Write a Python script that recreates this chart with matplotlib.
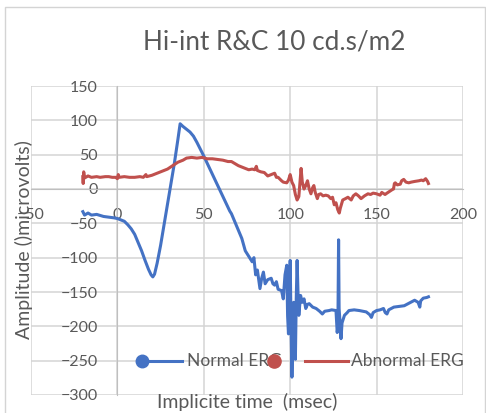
import matplotlib.pyplot as plt
from matplotlib.patches import Rectangle

# --- data ---
normal_x = [-20, -19, -17, -15, -12, -8, -5, -2, 0, 2, 4, 6, 8, 10, 12, 14, 16, 18,
            19.5, 20.5, 21.5, 23, 25, 27, 29, 31, 33, 35, 36.3, 38, 40, 42, 44, 46,
            48, 50, 53, 56, 59, 62, 65, 66, 68, 70, 72, 74, 76, 78, 79, 80, 81, 82.5,
            83.5, 84.5, 85.5, 87, 89, 90, 91, 92, 93, 95, 96, 97, 98, 98.5, 99, 99.5,
            100, 100.5, 101, 101.5, 102, 103, 103.5, 104, 104.5, 105, 106, 107, 108,
            109, 110, 111, 113, 115, 117, 118.6, 120, 122.5, 124, 126.5, 127.2, 127.6,
            128, 128.3, 129, 129.4, 130, 131.4, 133, 134, 137, 140, 142, 144, 146,
            147, 148, 150, 152, 154, 155, 156, 157, 160, 163, 166, 169, 172, 174,
            175, 175.5, 177, 179, 180]
normal_y = [-33, -38, -35, -38, -37, -40, -41, -42, -43, -45, -47, -52, -58, -66, -78,
            -90, -104, -117, -125, -128, -124, -108, -82, -52, -22, 8, 38, 72, 95, 91,
            87, 83, 77, 68, 58, 48, 32, 16, 0, -16, -32, -36, -48, -60, -72, -90, -98,
            -106, -100, -125, -118, -145, -130, -121, -138, -132, -130, -138, -140,
            -135, -146, -148, -160, -125, -111, -185, -211, -150, -104, -200, -274,
            -220, -165, -248, -160, -104, -150, -184, -155, -165, -160, -174, -168,
            -167, -172, -174, -178, -182, -178, -177, -176, -177, -209, -200, -74,
            -174, -200, -218, -195, -184, -180, -177, -176, -177, -178, -179, -183,
            -187, -180, -177, -176, -174, -180, -182, -176, -172, -171, -170, -166,
            -162, -165, -172, -163, -159, -158, -157]

abnormal_x = [-20, -19.8, -19.5, -19, -17, -15, -12, -10, -7, -5, -3, -1, 0, 0.5, 1, 4,
              7, 10, 13, 15, 16.5, 17, 20, 23, 26, 29, 32, 35, 38, 40, 43, 46, 49, 52,
              55, 58, 61, 64, 66, 68, 70, 72, 74, 76, 78, 79.5, 80.4, 81, 83, 85, 87,
              89, 91, 92, 93, 95, 96, 98, 99, 100, 101, 102, 103, 104, 105, 106.3, 107,
              108, 109, 110, 111, 112, 113, 113.7, 114.5, 115.7, 116.5, 117.6, 119,
              120.6, 122, 123.5, 124.5, 125.5, 126.5, 127.5, 128.4, 129, 130.4, 132,
              133.4, 135.3, 136.5, 138, 139.5, 141, 143, 145, 146.5, 148, 150, 152,
              153, 154.9, 156, 157.8, 159, 159.8, 160.3, 160.8, 162, 163.7, 164.5,
              165.7, 167, 168.6, 170, 172, 174.5, 176, 177, 178.4, 179.5, 180]
abnormal_y = [18, 8, 25, 16, 19, 17, 18, 17, 18, 18, 17, 17, 15, 21, 17, 18, 17, 17, 18,
              17, 21, 18, 20, 23, 26, 29, 34, 39, 42, 45, 46, 45, 46, 44, 44, 43, 42,
              40, 40, 37, 34, 32, 30, 28, 29, 28, 33, 27, 25, 24, 19, 21, 23, 17, 17,
              12, 10, 9, 13, 21, 10, 5, -8, -16, -11, 30, 10, 0, 5, 12, 0, -7, 2, 5,
              -5, -14, -8, -7, -10, -9, -10, -14, -12, -23, -20, -30, -35, -28, -16,
              -14, -12, -16, -10, -7, -10, -14, -10, -7, -8, -6, -7, -9, -5, -8, -6,
              -3, -1, 0, 8, 9, 6, 7, 12, 14, 10, 9, 10, 11, 12, 13, 12, 15, 11, 8]

x_ticks = [-50, 0, 50, 100, 150, 200]
y_ticks = [-300, -250, -200, -150, -100, -50, 0, 50, 100, 150]

BLUE = '#4472C4'
RED = '#C0504D'
TEXT = '#595959'
GRID = '#D4D4D4'

plt.rcParams['font.family'] = ['Lato', 'DejaVu Sans']

fig = plt.figure(figsize=(4.86, 4.13), dpi=100)
ax = fig.add_axes([31 / 486, 18 / 413, 432 / 486, 309 / 413])

# outer chart border
fig.patches.append(Rectangle((5 / 486, -0.01), 480 / 486, 1 - 7 / 413 + 0.01,
                             transform=fig.transFigure, fill=False,
                             edgecolor=GRID, linewidth=1))

ax.plot(normal_x, normal_y, color=BLUE, linewidth=2.2, zorder=3)
ax.plot(abnormal_x, abnormal_y, color=RED, linewidth=2.2, zorder=3)

ax.set_xlim(-50, 200)
ax.set_ylim(-300, 150)
ax.set_xticks(x_ticks)
ax.set_yticks(y_ticks)
ax.grid(True, color=GRID, linewidth=1.1)
ax.set_axisbelow(True)

ax.spines['left'].set_position(('data', 0))
ax.spines['bottom'].set_position(('data', 0))
ax.spines['left'].set_color('#BFBFBF')
ax.spines['bottom'].set_color('#BFBFBF')
ax.spines['top'].set_visible(False)
ax.spines['right'].set_visible(False)
ax.tick_params(axis='both', length=0, labelsize=11.5, labelcolor=TEXT)
ax.tick_params(axis='y', pad=14)
ax.tick_params(axis='x', pad=14)

fig.text(274 / 486, 1 - 42 / 413, 'Hi-int R&C 10 cd.s/m2', ha='center', va='center',
         fontsize=18.8, color=TEXT)
fig.text(24 / 486, 1 - 240 / 413, 'Amplitude ()microvolts)', rotation=90,
         ha='center', va='center', fontsize=14, color=TEXT)
fig.text(247 / 486, 1 - 402 / 413, 'Implicite time  (msec)', ha='center',
         va='center', fontsize=14, color=TEXT)

# legend, drawn the way the original overlaps it
ly = 0.111
ax.plot([0.256, 0.349], [ly, ly], color=BLUE, linewidth=2.2, transform=ax.transAxes,
        clip_on=False, zorder=4)
ax.plot([0.256], [ly], 'o', color=BLUE, markersize=9, transform=ax.transAxes,
        clip_on=False, zorder=4)
ax.text(0.361, ly, 'Normal ERG', transform=ax.transAxes, va='center', ha='left',
        fontsize=12.5, color=TEXT, zorder=4)
ax.plot([0.563], [ly], 'o', color=RED, markersize=9.5, transform=ax.transAxes,
        clip_on=False, zorder=5)
ax.plot([0.634, 0.734], [ly, ly], color=RED, linewidth=2.2, transform=ax.transAxes,
        clip_on=False, zorder=4)
ax.text(0.740, ly, 'Abnormal ERG', transform=ax.transAxes, va='center', ha='left',
        fontsize=12.5, color=TEXT, zorder=4)

fig.savefig('out.png', dpi=100)
